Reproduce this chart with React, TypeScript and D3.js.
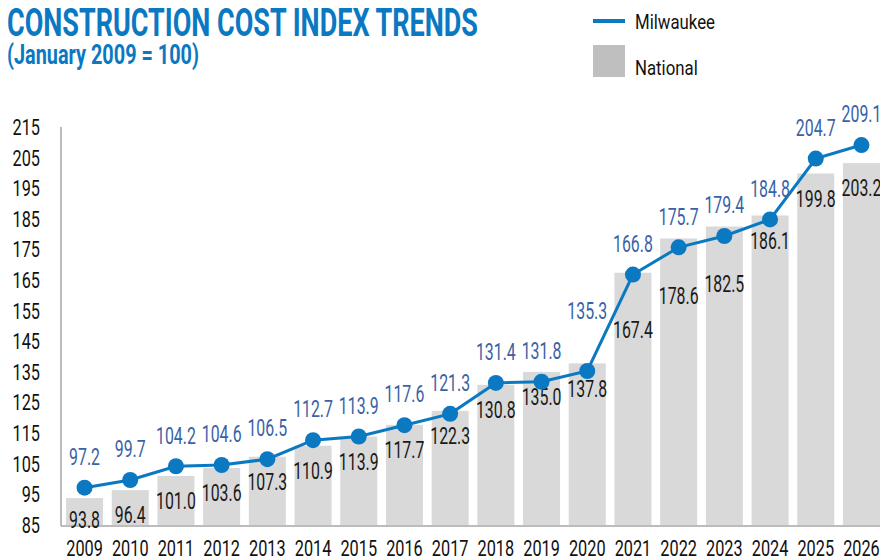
import React from "react";
import * as d3 from "d3";

const years = ["2009","2010","2011","2012","2013","2014","2015","2016","2017","2018","2019","2020","2021","2022","2023","2024","2025","2026"];
const milwaukee = [97.2, 99.7, 104.2, 104.6, 106.5, 112.7, 113.9, 117.6, 121.3, 131.4, 131.8, 135.3, 166.8, 175.7, 179.4, 184.8, 204.7, 209.1];
const national = [93.8, 96.4, 101.0, 103.6, 107.3, 110.9, 113.9, 117.7, 122.3, 130.8, 135.0, 137.8, 167.4, 178.6, 182.5, 186.1, 199.8, 203.2];
const yTicks = [85, 95, 105, 115, 125, 135, 145, 155, 165, 175, 185, 195, 205, 215];
const nationalLabelsDropped = ["2021", "2022", "2023"];
const milwaukeeLabelsRaised = ["2020"];

const W = 880, H = 557;
const FONT = "Roboto, 'Liberation Sans', sans-serif";
const BLUE = "#0a79c2";
const LABEL_BLUE = "#3a62a7";

function T(props: { x: number; y: number; anchor?: string; size?: number; fill?: string; weight?: string; sx?: number; children: React.ReactNode }) {
  const { x, y, anchor = "middle", size = 21, fill = "#1a1a1a", weight = "normal", sx = 0.75, children } = props;
  return (
    <text transform={`translate(${x},${y}) scale(${sx},1)`} dy="0.36em" textAnchor={anchor} fontSize={size} fill={fill} fontWeight={weight}>
      {children}
    </text>
  );
}

export default function App() {
  const x = d3.scaleBand<string>().domain(years).range([61, 885]).paddingInner(0.19).paddingOuter(0.11);
  const y = d3.scaleLinear().domain([85, 215]).range([525, 127]);
  const pts = years.map((yr, i) => ({ yr, m: milwaukee[i], n: national[i], cx: (x(yr) as number) + x.bandwidth() / 2 }));
  const line = d3.line<typeof pts[0]>().x(d => d.cx).y(d => y(d.m));

  return (
    <svg width={W} height={H} style={{ position: "absolute", left: 0, top: 0, background: "#fff" }} fontFamily={FONT}>
      <text x={7} y={36} fill={BLUE} fontSize={38} fontWeight="bold" textLength={471} lengthAdjust="spacingAndGlyphs">CONSTRUCTION COST INDEX TRENDS</text>
      <text x={7} y={64} fill={BLUE} fontSize={27} fontWeight="bold" textLength={192} lengthAdjust="spacingAndGlyphs">(January 2009 = 100)</text>

      <line x1={593} x2={625} y1={21} y2={21} stroke={BLUE} strokeWidth={4} />
      <T x={635} y={21} anchor="start" size={21} sx={0.8} fill="#111">Milwaukee</T>
      <rect x={593} y={45} width={32} height={32} fill="#bfbfbf" />
      <T x={635} y={67} anchor="start" size={21} sx={0.8} fill="#111">National</T>

      {yTicks.map(t => (
        <T key={t} x={40} y={y(t)} anchor="end" size={22} sx={0.74} fill="#111">{t}</T>
      ))}

      {pts.map(p => (
        <rect key={p.yr} x={x(p.yr)} y={y(p.n)} width={x.bandwidth()} height={y(85) - y(p.n)} fill="#d9d9d9" />
      ))}

      <line x1={61} x2={61} y1={127} y2={526} stroke="#a6a6a6" strokeWidth={1.5} />
      <line x1={61} x2={880} y1={526} y2={526} stroke="#a6a6a6" strokeWidth={1.5} />

      {pts.map(p => {
        const top = y(p.n);
        let ly = Math.min(top + 25, 520);
        if (nationalLabelsDropped.includes(p.yr)) ly = top + 57;
        return <T key={"n" + p.yr} x={p.cx} y={ly} size={23} sx={0.69}>{p.n.toFixed(1)}</T>;
      })}

      <path d={line(pts) || ""} fill="none" stroke={BLUE} strokeWidth={3} />
      {pts.map(p => (
        <circle key={"c" + p.yr} cx={p.cx} cy={y(p.m)} r={8} fill={BLUE} />
      ))}
      {pts.map(p => {
        const off = milwaukeeLabelsRaised.includes(p.yr) ? 60 : 31;
        return <T key={"m" + p.yr} x={p.cx} y={y(p.m) - off} size={23} sx={0.69} fill={LABEL_BLUE}>{p.m.toFixed(1)}</T>;
      })}

      {years.map(yr => (
        <T key={"x" + yr} x={(x(yr) as number) + x.bandwidth() / 2} y={548} size={22} sx={0.74} fill="#111">{yr}</T>
      ))}
    </svg>
  );
}
